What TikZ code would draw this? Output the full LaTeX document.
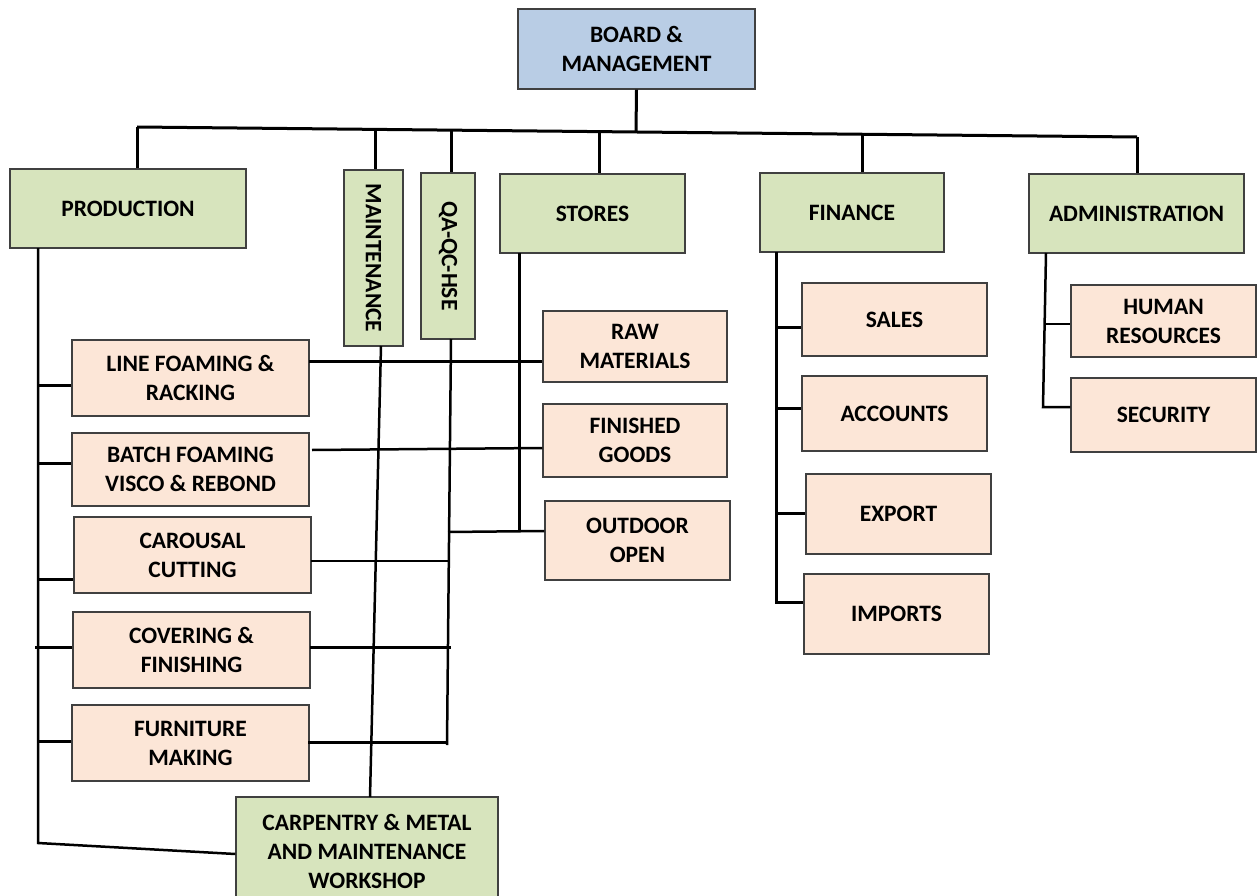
\documentclass[tikz,border=0pt]{standalone}
\usepackage{fontspec}
\usepackage{graphicx}
\setmainfont{Carlito}
\definecolor{gfill}{HTML}{D7E4BD}
\definecolor{pfill}{HTML}{FCE6D7}
\definecolor{bfill}{HTML}{B9CDE5}
\definecolor{bord}{HTML}{404040}
\tikzset{
  box/.style={draw=bord, line width=1.4pt, align=center, inner sep=0pt, text=black,
    font=\fontsize{23.5}{29}\selectfont\bfseries},
  gbox/.style={box, fill=gfill},
  pbox/.style={box, fill=pfill},
  bbox/.style={box, fill=bfill},
  conn/.style={line width=3pt, black},
  xconn/.style={line width=2.5pt, black},
}
\begin{document}
\begin{tikzpicture}[x=1pt,y=-1pt]
\path[use as bounding box] (0,0) rectangle (1258,896);
\clip (0,0) rectangle (1258,896);
% top level
\node[bbox, minimum width=237pt, minimum height=80pt] (board) at (636.5,49) {BOARD \&\\MANAGEMENT};
\node[gbox, minimum width=236pt, minimum height=79pt] (prod) at (128,208.5) {PRODUCTION};
\node[gbox, minimum width=59pt, minimum height=176pt] (maint) at (373.5,258) {\rotatebox{-90}{MAINTENANCE}};
\node[gbox, minimum width=54pt, minimum height=166pt] (qa) at (448,256) {\rotatebox{-90}{QA-QC-HSE}};
\node[gbox, minimum width=185pt, minimum height=79pt] (stores) at (592.5,213.5) {STORES};
\node[gbox, minimum width=184pt, minimum height=79pt] (fin) at (852,212.5) {FINANCE};
\node[gbox, minimum width=215pt, minimum height=79pt] (admin) at (1136.5,213.5) {ADMINISTRATION};
% production children
\node[pbox, minimum width=237pt, minimum height=76pt] (line) at (190.5,378) {LINE FOAMING \&\\RACKING};
\node[pbox, minimum width=237pt, minimum height=73pt] (batch) at (190.5,469.5) {BATCH FOAMING\\VISCO \& REBOND};
\node[pbox, minimum width=237pt, minimum height=76pt] (car) at (192.5,555) {CAROUSAL\\CUTTING};
\node[pbox, minimum width=237pt, minimum height=76pt] (cov) at (191.5,650) {COVERING \&\\FINISHING};
\node[pbox, minimum width=237pt, minimum height=76pt] (furn) at (190.5,743) {FURNITURE\\MAKING};
\node[gbox, minimum width=262pt, minimum height=108pt] (carp) at (367,851) {CARPENTRY \& METAL\\AND MAINTENANCE\\WORKSHOP};
% stores children
\node[pbox, minimum width=184pt, minimum height=71pt] (raw) at (635,346.5) {RAW\\MATERIALS};
\node[pbox, minimum width=184pt, minimum height=73pt] (fgood) at (635,440.5) {FINISHED\\GOODS};
\node[pbox, minimum width=185pt, minimum height=79pt] (out) at (637.5,540.5) {OUTDOOR\\OPEN};
% finance children
\node[pbox, minimum width=185pt, minimum height=73pt] (sales) at (894.5,319.5) {SALES};
\node[pbox, minimum width=185pt, minimum height=75pt] (acc) at (894.5,413.5) {ACCOUNTS};
\node[pbox, minimum width=185pt, minimum height=80pt] (exp) at (898.5,514) {EXPORT};
\node[pbox, minimum width=185pt, minimum height=80pt] (imp) at (896.5,614) {IMPORTS};
% admin children
\node[pbox, minimum width=185pt, minimum height=72pt] (hr) at (1163.5,321) {HUMAN\\RESOURCES};
\node[pbox, minimum width=185pt, minimum height=74pt] (sec) at (1163.5,415) {SECURITY};

% bus
\coordinate (jP) at (137,127);
\coordinate (jM) at (375,129.4);
\coordinate (jQ) at (451,130.1);
\coordinate (jS) at (599,131.6);
\coordinate (jB) at (636,132);
\coordinate (jF) at (862,134.3);
\coordinate (jA) at (1137,137);
\draw[conn] (jP) -- (jA);
\draw[conn] (board.south) -- (jB);
\draw[conn] (jP) -- (jP |- prod.north);
\draw[conn] (jM) -- (jM |- maint.north);
\draw[conn] (jQ) -- (jQ |- qa.north);
\draw[conn] (jS) -- (jS |- stores.north);
\draw[conn] (jF) -- (jF |- fin.north);
\draw[conn] (jA) -- (jA |- admin.north);

% production spine
\coordinate (pT) at (38,248);
\coordinate (pB) at (38,843);
\draw[xconn] (pT) -- (pB) -- ([yshift=-3pt]carp.west);
\coordinate (t1) at (38,385);
\coordinate (t2) at (38,463);
\coordinate (t3) at (38,579);
\coordinate (t4) at (35,647);
\coordinate (t5) at (38,741);
\draw[conn] (t1) -- (t1 -| line.west);
\draw[conn] (t2) -- (t2 -| batch.west);
\draw[conn] (t3) -- (t3 -| car.west);
\draw[conn] (t4) -- (t4 -| cov.west);
\draw[conn] (t5) -- (t5 -| furn.west);

% maintenance and QA lines
\coordinate (mT) at (381,346);
\coordinate (mB) at (370,797);
\draw[xconn] (mT) -- (mB);
\coordinate (qT) at (451,339);
\coordinate (qB) at (447,745);
\draw[xconn] (qT) -- (qB);

% cross lines
\coordinate (h1) at (309,361);
\draw[conn] (h1) -- (h1 -| raw.west);
\coordinate (h2) at (312,450);
\draw[xconn] (h2) -- (fgood.west |- 0,448);
\coordinate (h3) at (311,561);
\draw[xconn] (h3) -- (450,561);
\coordinate (h4) at (310,647);
\draw[conn] (h4) -- (451,647);
\coordinate (h5) at (308,742);
\draw[conn] (h5) -- (447,742);

% stores spine
\coordinate (sT) at (519,253);
\coordinate (sB) at (519,531);
\draw[conn] (sT) -- (sB);
\coordinate (qo) at (448,532);
\draw[xconn] (qo) -- (out.west |- sB);

% finance spine
\coordinate (fT) at (776,252);
\coordinate (fB) at (776,602);
\draw[conn] (fT) -- (fB) -- (fB -| imp.west);
\coordinate (f1) at (776,327);
\coordinate (f2) at (776,408);
\coordinate (f3) at (776,513);
\draw[conn] (f1) -- (f1 -| sales.west);
\draw[conn] (f2) -- (f2 -| acc.west);
\draw[conn] (f3) -- (f3 -| exp.west);

% admin spine
\coordinate (aT) at (1046,253);
\coordinate (aB) at (1043,407);
\draw[xconn] (aT) -- (aB) -- (aB -| sec.west);
\coordinate (a1) at (1045,324);
\draw[xconn] (a1) -- (a1 -| hr.west);
\end{tikzpicture}
\end{document}
